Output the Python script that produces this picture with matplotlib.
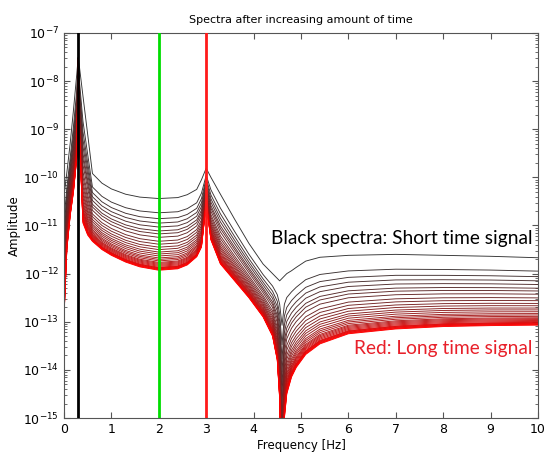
import numpy as np
import matplotlib
matplotlib.use("Agg")
import matplotlib.pyplot as plt

# Frequency knots (Hz) at which curves were read
freq = [0, 0.06, 0.13, 0.2, 0.27, 0.3, 0.33, 0.4, 0.5, 0.6, 0.8, 1.0, 1.3, 1.6,
        2.0, 2.4, 2.6, 2.8, 2.9, 3.0, 3.1, 3.3, 3.6, 3.9, 4.2, 4.4, 4.5, 4.55,
        4.6, 4.65, 4.7, 4.8, 4.9, 5.1, 5.4, 6.0, 7.0, 8.0, 9.0, 10.0]

# log10 amplitude of the shortest-time (black) spectrum
top_log = [-10.4, -9.9, -9.3, -8.6, -7.85, -7.5, -7.74, -8.31, -9.11, -9.92, -10.12,
           -10.24, -10.35, -10.41, -10.44, -10.42, -10.36, -10.25, -10.05, -9.81,
           -10.0, -10.35, -10.87, -11.37, -11.8, -12.0, -12.1, -12.15, -12.1, -12.05,
           -12.0, -11.94, -11.87, -11.74, -11.66, -11.62, -11.6, -11.62, -11.64, -11.67]

# log10 amplitude of the longest-time (red) spectrum
bottom_log = [-12.9, -11.5, -10.8, -10.3, -9.6, -7.55, -9.3, -10.95, -11.2, -11.33,
              -11.5, -11.62, -11.76, -11.86, -11.93, -11.9, -11.82, -11.65, -11.45,
              -10.55, -11.3, -11.8, -12.15, -12.5, -12.9, -13.3, -13.8, -14.6, -17.0,
              -15.0, -14.5, -14.15, -13.95, -13.68, -13.46, -13.25, -13.15, -13.1,
              -13.08, -13.07]

# plateau level (log10) of each spectrum at 8.5 Hz, shortest to longest time
levels = [-11.63, -11.92, -12.04, -12.13, -12.21, -12.29, -12.35, -12.42, -12.50,
          -12.56, -12.62, -12.67, -12.72, -12.76, -12.80, -12.84, -12.87, -12.90,
          -12.93, -12.95, -12.97, -12.99, -13.01, -13.03, -13.04, -13.05, -13.06,
          -13.07, -13.08, -13.09]

vlines_x = [0.3, 2.0, 3.0]
vlines_c = ['black', '#00dd00', '#ff1a1a']

xticks = list(range(0, 11))
yticks_exp = list(range(-15, -6))

fig = plt.figure(figsize=(5.47, 4.55), dpi=100)
ax = fig.add_axes([0.117, 0.0813, 0.8665, 0.8462])

x = np.array(freq)
t = np.array(top_log)
b = np.array(bottom_log)
n = len(levels)
c0 = np.array([0.2, 0.2, 0.2])
c1 = np.array([1.0, 0.0, 0.0])
for i, L in enumerate(levels):
    f = (L - levels[0]) / (levels[-1] - levels[0])
    y = t + f * (b - t)
    c = i / (n - 1)
    col = tuple(c0 + (c1 - c0) * c)
    ax.plot(x, 10.0 ** y, color=col, lw=0.65, zorder=2 + i * 0.01)

for xv, col in zip(vlines_x, vlines_c):
    ax.axvline(xv, color=col, lw=2, zorder=5)

ax.set_yscale('log')
ax.set_xlim(0, 10)
ax.set_ylim(1e-15, 1e-7)
ax.set_xticks(xticks)
ax.set_xticklabels([str(v) for v in xticks])
ax.set_yticks([10.0 ** e for e in yticks_exp])
ax.set_yticklabels([r'$10^{%d}$' % e for e in yticks_exp])
ax.tick_params(which='both', direction='in', top=True, right=True, labelsize=9,
               color='#555555')
ax.tick_params(which='major', length=4)
ax.tick_params(which='minor', length=2)
for s in ax.spines.values():
    s.set_color('#555555')
    s.set_linewidth(0.8)

ax.set_title('Spectra after increasing amount of time', fontsize=8, pad=7)
ax.set_xlabel('Frequency [Hz]', fontsize=8.5, labelpad=2)
ax.set_ylabel('Amplitude', fontsize=8.5, labelpad=2)

ax.text(9.89, 10 ** -11.375, 'Black spectra: Short time signal', ha='right',
        va='baseline', fontsize=13.8, color='black', family='Lato', zorder=6)
ax.text(9.89, 10 ** -13.67, 'Red: Long time signal', ha='right',
        va='baseline', fontsize=13.8, color='#e8202a', family='Lato', zorder=6)

fig.savefig('out.png', dpi=100)
